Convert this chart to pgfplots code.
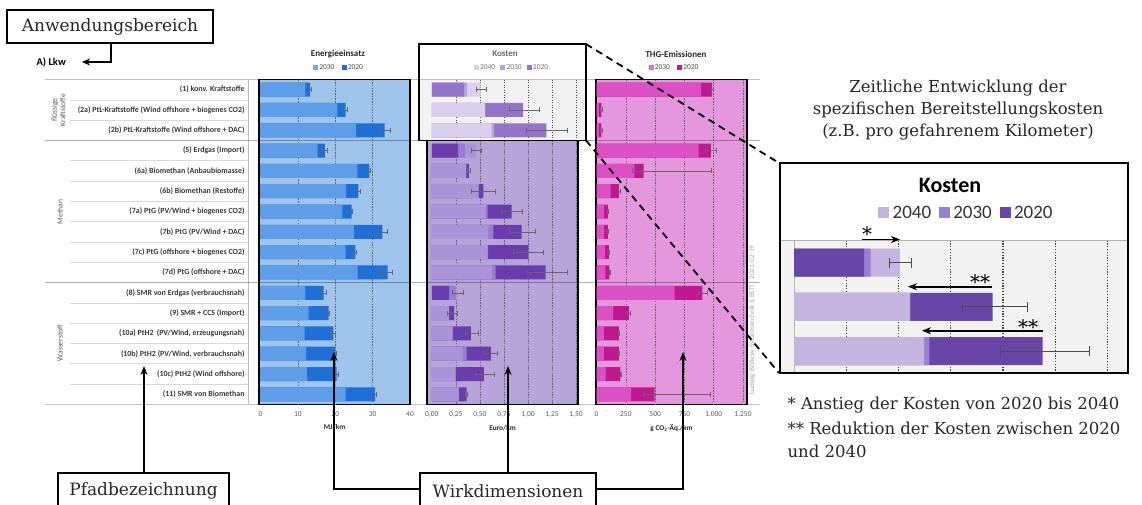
\documentclass[border=0pt]{standalone}
\usepackage{pgfplots}
\pgfplotsset{compat=1.18}
\usepackage{pgfplotstable}
\usepackage{fontspec}
\setmainfont{Carlito}
\newfontfamily\serif{DejaVu Serif}
\usetikzlibrary{arrows.meta}
\newcommand\fs[2]{\fontsize{#1}{#2}\selectfont}

\definecolor{eBg}{HTML}{9EC4EB}
\definecolor{e30}{HTML}{5E9DE7}
\definecolor{e20}{HTML}{1F6FD7}
\definecolor{e30l}{HTML}{72AAEB}
\definecolor{tBg}{HTML}{E597DE}
\definecolor{t30}{HTML}{DB50C5}
\definecolor{t20}{HTML}{BF1890}
\definecolor{t30l}{HTML}{E36CCF}
\definecolor{kBg}{HTML}{B6A3D8}
\definecolor{k40}{HTML}{AA93D8}
\definecolor{k30}{HTML}{9A7DD0}
\definecolor{k20}{HTML}{6A3CAE}
\definecolor{ktBg}{HTML}{F2F2F2}
\definecolor{kt40}{HTML}{D9CFEE}
\definecolor{kt30}{HTML}{B7A3DE}
\definecolor{kt20}{HTML}{9474C9}
\definecolor{km40}{HTML}{C4B4E0}
\definecolor{km30}{HTML}{9B7FD3}
\definecolor{km20}{HTML}{6A45A8}
\definecolor{tickgray}{HTML}{595959}
\definecolor{linegray}{HTML}{BFBFBF}

% Energieeinsatz (MJ/km)
\pgfplotstableread{
r e30 e20 ep em
1 12.0 13.3 0.2 0.2
2 20.6 22.8 0.3 0.3
3 25.6 33.2 1.4 1.4
4 15.3 17.2 0.7 0.7
5 25.9 29.1 0.3 0.3
6 22.9 26.2 0.6 0.6
7 21.9 24.4 0.2 0.2
8 25.0 32.6 1.3 1.3
9 22.8 25.4 0.2 0.2
10 26.0 34.0 1.3 1.3
11 12.0 16.9 0.6 0.6
12 12.9 18.2 0.3 0.3
13 11.8 19.5 0.5 0.5
14 12.2 20.0 0.3 0.3
15 12.4 20.4 0.3 0.3
16 22.8 30.7 0.3 0.3
}\energie

% Kosten (Euro/km), rows where 2020 is highest
\pgfplotstableread{
r c20 c30 c40 ep em
2 0.950 0.555 0.555 0.165 0.145
3 1.190 0.648 0.622 0.223 0.204
5 0.385 0.360 0.355 0.012 0.012
6 0.535 0.490 0.480 0.128 0.122
7 0.830 0.580 0.560 0.111 0.111
8 0.934 0.639 0.587 0.139 0.129
9 1.003 0.585 0.580 0.160 0.152
10 1.184 0.663 0.628 0.219 0.187
12 0.233 0.180 0.178 0.034 0.073
13 0.406 0.220 0.215 0.077 0.062
14 0.615 0.361 0.320 0.069 0.073
15 0.542 0.250 0.240 0.107 0.091
16 0.361 0.285 0.280 0.010 0.010
}\kostenA
% Kosten, rows where 2040 is highest
\pgfplotstableread{
r c20 c30 c40 ep em
1 0.335 0.367 0.507 0.056 0.049
4 0.274 0.344 0.464 0.046 0.054
11 0.180 0.250 0.267 0.059 0.055
}\kostenB

% THG-Emissionen (g CO2-Aeq./km)
\pgfplotstableread{
r t30 t20 ep em
1 893 986 10 10
2 20 40 5 5
3 20 40 5 5
4 870 975 43 48
5 323 402 573 98
6 119 190 8 8
7 62 96 6 6
8 62 96 6 6
9 70 105 5 5
10 75 110 6 6
11 666 904 37 37
12 142 275 10 10
13 62 190 4 4
14 62 190 5 5
15 77 204 5 5
16 295 496 473 94
}\thg

\pgfplotsset{
  panel/.style={scale only axis, anchor=north west, y dir=reverse,
    ytick=\empty, major tick length=0pt,
    axis line style={line width=1.2pt, black},
    xticklabel style={font=\fs{7.5}{8}, text=tickgray, yshift=-4pt},
    every axis x label/.append style={font=\bfseries\fs{7.3}{8}, text=black!85, yshift=-1pt},
    extra x tick labels={},
    extra x tick style={grid=major, major grid style={black!60, line width=0.5pt, dash pattern=on 1.5pt off 1.2pt}},
  },
  hb/.style={xbar, bar shift=0pt, bar width=14pt, draw=none, fill=#1},
  err/.style={draw=none, forget plot, error bars/.cd, x dir=both, x explicit,
    error bar style={draw=black!60, line width=0.5pt, solid},
    error mark options={rotate=90, draw=black!60, line width=0.5pt, mark size=2.5pt}},
}
\newcommand\sq[1]{{\color{#1}\rule{5pt}{5pt}}}
\newcommand\bsq[1]{{\color{#1}\rule{11pt}{11pt}}}

\begin{document}
\begin{tikzpicture}[x=1pt,y=-1pt]
\useasboundingbox (0,0) rectangle (1142,504);
\fill[white] (0,0) rectangle (1142,504);
\fill[ktBg] (419,79.5) rectangle (586,140.4);
% table lines
\draw[linegray, line width=0.6pt] (45,79.5) -- (760,79.5);
\draw[linegray, line width=0.6pt] (45,404.5) -- (760,404.5);
\draw[linegray, line width=0.6pt] (248,79.5) -- (248,404.5);
\foreach \i in {1,2,4,5,6,7,8,9,11,12,13,14,15}
  \draw[black!15, line width=0.5pt] (70,{79.5+20.3*\i}) -- (248,{79.5+20.3*\i});

% ---------- Energieeinsatz ----------
\begin{axis}[panel, at={(259pt,-79.5pt)}, width=151pt, height=325pt,
  ymin=0.5, ymax=16.5, xmin=-0.4, xmax=40,
  axis background/.style={fill=eBg},
  xtick={0,10,20,30,40}, xticklabels={0,10,20,30,40},
  extra x ticks={10,20,30},
  ytick={1,...,16},
  yticklabels={{(1) konv. Kraftstoffe},{(2a) PtL-Kraftstoffe (Wind offshore + biogenes CO2)},{(2b) PtL-Kraftstoffe (Wind offshore + DAC)},{(5) Erdgas (Import)},{(6a) Biomethan (Anbaubiomasse)},{(6b) Biomethan (Restoffe)},{(7a) PtG (PV/Wind + biogenes CO2)},{(7b) PtG (PV/Wind + DAC)},{(7c) PtG (offshore + biogenes CO2)},{(7d) PtG (offshore + DAC)},{(8) SMR von Erdgas (verbrauchsnah)},{(9) SMR + CCS (Import)},{(10a) PtH2 \,(PV/Wind, erzeugungsnah)},{(10b) PtH2 (PV/Wind, verbrauchsnah)},{(10c) PtH2 (Wind offshore)},{(11) SMR von Biomethan}},
  yticklabel style={font=\bfseries\fs{7.9}{9}, text=black!78, xshift=-11pt},
  xlabel={MJ/km}]
\addplot[hb=e20] table[x=e20,y=r]{\energie};
\addplot[hb=e30] table[x=e30,y=r]{\energie};
\addplot[err] table[x=e20,y=r,x error plus=ep,x error minus=em]{\energie};
\end{axis}

% ---------- Kosten (rows 1-3, highlighted) ----------
\begin{axis}[panel, at={(427pt,-79.5pt)}, width=151pt, height=60.9pt,
  ymin=0.5, ymax=3.5, xmin=-0.05, xmax=1.52,
  axis line style={draw=none}, xtick=\empty,
  extra x ticks={0.25,0.5,0.75,1,1.25,1.5},
  extra x tick style={grid=major, major grid style={black!70, line width=0.6pt, dash pattern=on 1pt off 1.5pt}}]
\addplot[hb=kt20] table[x=c20,y=r]{\kostenA};
\addplot[hb=kt30] table[x=c30,y=r]{\kostenA};
\addplot[hb=kt40] table[x=c40,y=r]{\kostenA};
\addplot[hb=kt40] table[x=c40,y=r]{\kostenB};
\addplot[hb=kt30] table[x=c30,y=r]{\kostenB};
\addplot[hb=kt20] table[x=c20,y=r]{\kostenB};
\addplot[err] table[x=c20,y=r,x error plus=ep,x error minus=em]{\kostenA};
\addplot[err] table[x=c40,y=r,x error plus=ep,x error minus=em]{\kostenB};
\end{axis}

% ---------- Kosten (rows 4-16) ----------
\begin{axis}[panel, at={(427pt,-140.4pt)}, width=151pt, height=264.1pt,
  ymin=3.5, ymax=16.5, xmin=-0.05, xmax=1.52,
  axis background/.style={fill=kBg},
  xtick={0,0.25,0.5,0.75,1,1.25,1.5},
  xticklabels={{0,00},{0,25},{0,50},{0,75},{1,00},{1,25},{1,50}},
  extra x ticks={0.25,0.5,0.75,1,1.25,1.5},
  xlabel={Euro/km}]
\addplot[hb=k20] table[x=c20,y=r]{\kostenA};
\addplot[hb=k30] table[x=c30,y=r]{\kostenA};
\addplot[hb=k40] table[x=c40,y=r]{\kostenA};
\addplot[hb=k40] table[x=c40,y=r]{\kostenB};
\addplot[hb=k30] table[x=c30,y=r]{\kostenB};
\addplot[hb=k20] table[x=c20,y=r]{\kostenB};
\addplot[err] table[x=c20,y=r,x error plus=ep,x error minus=em]{\kostenA};
\addplot[err] table[x=c40,y=r,x error plus=ep,x error minus=em]{\kostenB};
\end{axis}

% ---------- THG-Emissionen ----------
\begin{axis}[panel, at={(596pt,-79.5pt)}, width=151pt, height=325pt,
  ymin=0.5, ymax=16.5, xmin=-5, xmax=1284,
  axis background/.style={fill=tBg},
  xtick={0,250,500,750,1000,1250},
  xticklabels={0,250,500,750,{1.000},{1.250}},
  extra x ticks={250,500,750,1000,1250},
  xlabel={g CO\textsubscript{2}-Äq./km}]
\addplot[hb=t20] table[x=t20,y=r]{\thg};
\addplot[hb=t30] table[x=t30,y=r]{\thg};
\addplot[err] table[x=t20,y=r,x error plus=ep,x error minus=em]{\thg};
\end{axis}

% group separators
\draw[black, opacity=0.3, line width=0.7pt] (45,140.4) -- (760,140.4);
\draw[black, opacity=0.3, line width=0.7pt] (45,282.6) -- (760,282.6);

% group labels
\node[rotate=90, align=center, font=\fs{7.6}{8.5}, text=tickgray] at (58.5,110) {flüssige\\Kraftstoffe};
\node[rotate=90, font=\fs{7.6}{8.5}, text=tickgray] at (60,212) {Methan};
\node[rotate=90, font=\fs{7.6}{8.5}, text=tickgray] at (60,343) {Wasserstoff};

% titles and legends
\node[font=\bfseries\fs{9}{10}, text=black!85] at (338,54) {Energieeinsatz};
\node[font=\fs{7.5}{8}, text=black!70] at (338,67.5) {\sq{e30l}\,2030\hspace{7pt}\sq{e20}\,2020};
\node[font=\bfseries\fs{9}{10}, text=black!60] at (505,54) {Kosten};
\node[font=\fs{7.5}{8}, text=black!55] at (511,67.5) {\sq{kt40}\,2040\hspace{5pt}\sq{kt30}\,2030\hspace{5pt}\sq{kt20}\,2020};
\node[font=\bfseries\fs{9}{10}, text=black!85] at (676,54) {THG-Emissionen};
\node[font=\fs{7.5}{8}, text=black!70] at (673.5,67.5) {\sq{t30l}\,2030\hspace{7pt}\sq{t20}\,2020};

% highlight box
\draw[black, line width=1.3pt] (419,44) rectangle (586,140.4);

% watermark
\node[rotate=90, font=\fs{7.3}{8}, text=black!35] at (752,320) {Ludwig-Bölkow-Systemtechnik (LBST) - 2021-02-19};

% ---------- magnified Kosten panel ----------
\begin{axis}[scale only axis, anchor=north west, at={(780pt,-240.5pt)}, width=348pt, height=132.6pt,
  y dir=reverse, ymin=0.5, ymax=3.5, xmin=-0.067, xmax=1.598,
  axis line style={draw=none}, ytick=\empty, major tick length=0pt,
  axis background/.style={fill=ktBg},
  xtick={0.25,0.5,0.75,1,1.25,1.5}, xticklabels={},
  xmajorgrids, major grid style={black!75, line width=1.1pt, dash pattern=on 1.2pt off 1.6pt},
  extra x ticks={0}, extra x tick labels={},
  extra x tick style={grid=major, major grid style={black!30, solid, line width=0.9pt}}]
\addplot[xbar, bar shift=0pt, bar width=28pt, draw=none, fill=km20] table[x=c20,y=r]{\kostenA};
\addplot[xbar, bar shift=0pt, bar width=28pt, draw=none, fill=km30] table[x=c30,y=r]{\kostenA};
\addplot[xbar, bar shift=0pt, bar width=28pt, draw=none, fill=km40] table[x=c40,y=r]{\kostenA};
\addplot[xbar, bar shift=0pt, bar width=28pt, draw=none, fill=km40] table[x=c40,y=r]{\kostenB};
\addplot[xbar, bar shift=0pt, bar width=28pt, draw=none, fill=km30] table[x=c30,y=r]{\kostenB};
\addplot[xbar, bar shift=0pt, bar width=28pt, draw=none, fill=km20] table[x=c20,y=r]{\kostenB};
\addplot[draw=none, forget plot, error bars/.cd, x dir=both, x explicit,
  error bar style={draw=black!70, line width=0.9pt, solid}, error mark options={rotate=90, draw=black!70, line width=0.9pt, mark size=5pt}]
  table[x=c20,y=r,x error plus=ep,x error minus=em]{\kostenA};
\addplot[draw=none, forget plot, error bars/.cd, x dir=both, x explicit,
  error bar style={draw=black!70, line width=0.9pt, solid}, error mark options={rotate=90, draw=black!70, line width=0.9pt, mark size=5pt}]
  table[x=c40,y=r,x error plus=ep,x error minus=em]{\kostenB};
\end{axis}
\draw[black!30, line width=0.9pt] (780,240.5) -- (1128,240.5);
\draw[black, line width=1.3pt] (780,163) rectangle (1128,373);
\node[font=\bfseries\fs{22}{24}] at (950,185) {Kosten};
\node[font=\fs{19}{20}, text=black!80] at (965.5,212) {\bsq{km40}\,2040\hspace{8pt}\bsq{km30}\,2030\hspace{8pt}\bsq{km20}\,2020};
\draw[-{Stealth[length=9pt,width=7pt]}, line width=1.8pt] (862,239.5) -- (900,239.5);
\draw[-{Stealth[length=9pt,width=7pt]}, line width=1.8pt] (992,286.7) -- (908,286.7);
\draw[-{Stealth[length=9pt,width=7pt]}, line width=1.8pt] (1043,330.7) -- (922,330.7);
\node[anchor=base, font=\serif\fs{20}{20}] at (867,241) {*};
\node[anchor=base, font=\serif\fs{20}{20}] at (980,289) {**};
\node[anchor=base, font=\serif\fs{20}{20}] at (1028,334) {**};

% dashed zoom lines
\draw[black, line width=1.8pt, dash pattern=on 7pt off 5pt] (586,44) -- (779,163);
\draw[black, line width=1.8pt, dash pattern=on 7pt off 5pt] (586,140.4) -- (779,373);

% explanatory text
\node[align=center, font=\serif\fs{16.5}{22}, text=black!85] at (958,110) {Zeitliche Entwicklung der\\spezifischen Bereitstellungskosten\\(z.B. pro gefahrenem Kilometer)};
\node[anchor=west, font=\serif\fs{16.5}{20}, text=black!85] at (784,405) {* Anstieg der Kosten von 2020 bis 2040};
\node[anchor=west, font=\serif\fs{16.5}{20}, text=black!85] at (784,428) {** Reduktion der Kosten zwischen 2020};
\node[anchor=west, font=\serif\fs{16.5}{20}, text=black!85] at (784,451) {und 2040};

% annotation boxes
\draw[line width=1.3pt, fill=white] (7,10) rectangle (213,43);
\node[font=\serif\fs{17}{20}, text=black!85] at (110,27) {Anwendungsbereich};
\draw[line width=1.3pt, -{Stealth[length=8pt,width=7pt]}] (111,43) -- (111,62) -- (82,62);
\node[anchor=west, font=\bfseries\fs{10.5}{12}] at (33,62.5) {A) Lkw};

\draw[line width=1.3pt, -{Stealth[length=9pt,width=7pt]}] (144,473) -- (144,366);
\draw[line width=1.3pt, fill=white] (58,473) rectangle (229,510);
\node[font=\serif\fs{17}{20}, text=black!85] at (143.5,491) {Pfadbezeichnung};

\draw[line width=1.3pt, -{Stealth[length=9pt,width=7pt]}] (420,489) -- (334,489) -- (334,352);
\draw[line width=1.3pt, -{Stealth[length=9pt,width=7pt]}] (508,473) -- (508,366);
\draw[line width=1.3pt, -{Stealth[length=9pt,width=7pt]}] (596,489) -- (683,489) -- (683,352);
\draw[line width=1.3pt, fill=white] (420,473) rectangle (596,510);
\node[font=\serif\fs{17}{20}, text=black!85] at (508,491) {Wirkdimensionen};
\end{tikzpicture}
\end{document}
